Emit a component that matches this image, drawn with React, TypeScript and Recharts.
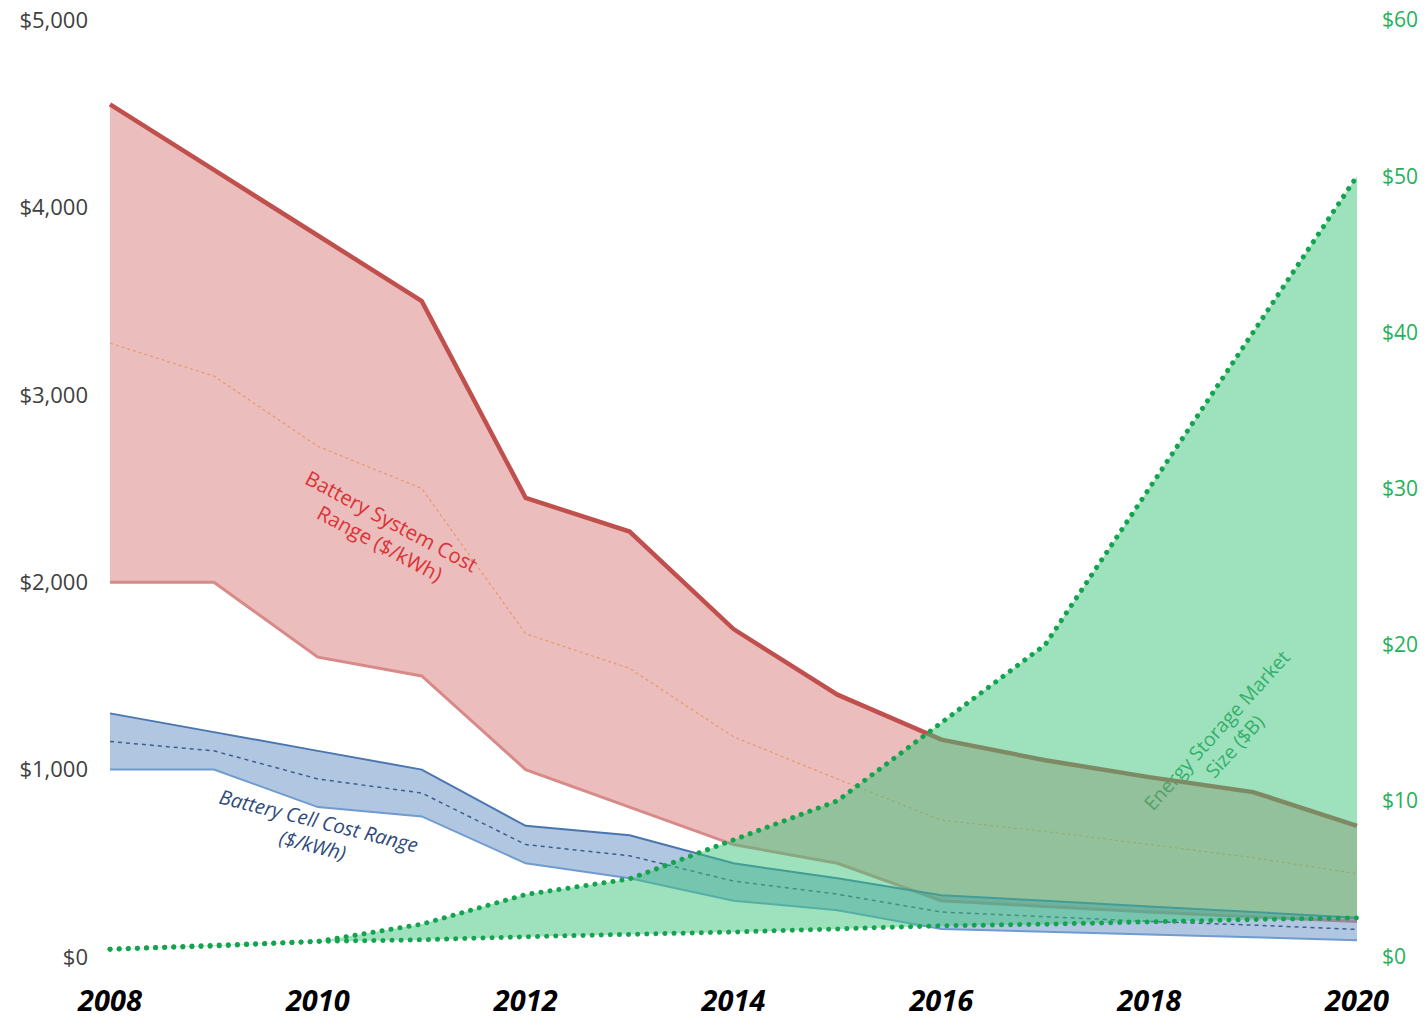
import React from "react";
import { ComposedChart, Area, Line, XAxis, YAxis, Customized } from "recharts";

// values
const years = [2008, 2009, 2010, 2011, 2012, 2013, 2014, 2015, 2016, 2017, 2018, 2019, 2020];
const systemHigh = [4550, 4200, 3850, 3500, 2450, 2270, 1750, 1400, 1160, 1050, 960, 880, 700];
const systemLow = [2000, 2000, 1600, 1500, 1000, 800, 600, 500, 300, 270, 240, 215, 190];
const systemMid = [3275, 3100, 2725, 2500, 1725, 1540, 1175, 950, 730, 670, 600, 530, 445];
const cellHigh = [1300, 1200, 1100, 1000, 700, 650, 500, 420, 330, 300, 270, 240, 210];
const cellLow = [1000, 1000, 800, 750, 500, 420, 300, 250, 150, 135, 120, 105, 90];
const cellMid = [1150, 1100, 950, 875, 600, 540, 405, 335, 240, 215, 190, 170, 147];
const marketSize = [0.5, 0.7, 1.0, 2.1, 4.0, 5.0, 7.5, 10, 15, 20, 30, 40, 50];
const marketLow = [0.5, 0.75, 1.0, 1.1, 1.3, 1.45, 1.6, 1.8, 2.0, 2.1, 2.25, 2.4, 2.5];

const xTicks = [2008, 2010, 2012, 2014, 2016, 2018, 2020];
const leftTicks = [0, 1000, 2000, 3000, 4000, 5000];
const rightTicks = [0, 10, 20, 30, 40, 50, 60];

const data = years.map((year, i) => ({
  year,
  systemRange: [systemLow[i], systemHigh[i]],
  systemHigh: systemHigh[i],
  systemLow: systemLow[i],
  systemMid: systemMid[i],
  cellRange: [cellLow[i], cellHigh[i]],
  cellHigh: cellHigh[i],
  cellLow: cellLow[i],
  cellMid: cellMid[i],
  marketRange: [marketLow[i], marketSize[i]],
  marketSize: marketSize[i],
  marketLow: marketLow[i],
}));

const FONT = "'Open Sans', 'Noto Sans', sans-serif";

// rotated annotation labels
const Labels = () => (
  <g style={{ fontFamily: FONT }}>
    <text
      x={388}
      y={528}
      transform="rotate(28, 388, 528)"
      textAnchor="middle"
      fill="#e8232b"
      fontSize={20.5}
    >
      <tspan x={388} dy={0}>Battery System Cost</tspan>
      <tspan x={388} dy={25}>Range ($/kWh)</tspan>
    </text>
    <text
      x={317}
      y={828}
      transform="rotate(14, 317, 828)"
      textAnchor="middle"
      fill="#2e4a7a"
      fontSize={20}
      fontStyle="italic"
    >
      <tspan x={317} dy={0}>Battery Cell Cost Range</tspan>
      <tspan x={317} dy={25}>($/kWh)</tspan>
    </text>
    <text
      x={1222}
      y={735}
      transform="rotate(-48, 1222, 735)"
      textAnchor="middle"
      fill="#2f9a58"
      fontSize={19.5}
    >
      <tspan x={1222} dy={0}>Energy Storage Market</tspan>
      <tspan x={1222} dy={24}>Size ($B)</tspan>
    </text>
  </g>
);

export default function App() {
  return (
    <div style={{ position: "absolute", left: 0, top: 0, background: "#fff" }}>
      <ComposedChart
        width={1427}
        height={1019}
        data={data}
        margin={{ top: 20, right: 0, left: 0, bottom: 12 }}
      >
        <XAxis
          dataKey="year"
          type="number"
          domain={[2008, 2020]}
          ticks={xTicks}
          axisLine={false}
          tickLine={false}
          tickSize={0}
          tickMargin={33}
          height={50}
          tick={{ fontSize: 29, fontWeight: 700, fontStyle: "italic", fill: "#000", fontFamily: FONT }}
        />
        <YAxis
          yAxisId="left"
          domain={[0, 5000]}
          ticks={leftTicks}
          width={110}
          axisLine={false}
          tickLine={false}
          tickSize={0}
          tickMargin={22}
          tickFormatter={(v: number) => "$" + v.toLocaleString("en-US")}
          tick={{ fontSize: 22, fill: "#404040", fontFamily: FONT }}
        />
        <YAxis
          yAxisId="right"
          orientation="right"
          domain={[0, 60]}
          ticks={rightTicks}
          width={70}
          axisLine={false}
          tickLine={false}
          tickSize={0}
          tickMargin={25}
          tickFormatter={(v: number) => "$" + v}
          tick={{ fontSize: 21, fill: "#1fb25a", fontFamily: FONT, textAnchor: "start" }}
        />

        {/* battery system cost band */}
        <Area
          yAxisId="left"
          type="linear"
          dataKey="systemRange"
          fill="#c8504d"
          fillOpacity={0.37}
          stroke="none"
          isAnimationActive={false}
          zIndex={100}
        />
        <Line yAxisId="left" type="linear" dataKey="systemLow" stroke="#d88a88" strokeWidth={3} dot={false} isAnimationActive={false} zIndex={110} />
        <Line yAxisId="left" type="linear" dataKey="systemMid" stroke="#e49a6c" strokeWidth={1.2} strokeDasharray="3 3" dot={false} isAnimationActive={false} zIndex={110} />
        <Line yAxisId="left" type="linear" dataKey="systemHigh" stroke="#c0504d" strokeWidth={4.5} dot={false} isAnimationActive={false} zIndex={110} />

        {/* battery cell cost band */}
        <Area
          yAxisId="left"
          type="linear"
          dataKey="cellRange"
          fill="#4f81bd"
          fillOpacity={0.45}
          stroke="none"
          isAnimationActive={false}
          zIndex={120}
        />
        <Line yAxisId="left" type="linear" dataKey="cellLow" stroke="#6f9bd0" strokeWidth={2} dot={false} isAnimationActive={false} zIndex={130} />
        <Line yAxisId="left" type="linear" dataKey="cellMid" stroke="#3f5f8a" strokeWidth={1.5} strokeDasharray="4 4" dot={false} isAnimationActive={false} zIndex={130} />
        <Line yAxisId="left" type="linear" dataKey="cellHigh" stroke="#4a76b0" strokeWidth={2} dot={false} isAnimationActive={false} zIndex={130} />

        {/* energy storage market size */}
        <Area
          yAxisId="right"
          type="linear"
          dataKey="marketRange"
          fill="#3cc47c"
          fillOpacity={0.5}
          stroke="none"
          isAnimationActive={false}
          zIndex={140}
        />
        <Line yAxisId="right" type="linear" dataKey="marketLow" stroke="#14a34e" strokeWidth={5} strokeDasharray="0.1 9" strokeLinecap="round" dot={false} isAnimationActive={false} zIndex={150} />
        <Line yAxisId="right" type="linear" dataKey="marketSize" stroke="#14a34e" strokeWidth={5} strokeDasharray="0.1 9" strokeLinecap="round" dot={false} isAnimationActive={false} zIndex={150} />

        <Customized component={<Labels />} />
      </ComposedChart>
    </div>
  );
}
